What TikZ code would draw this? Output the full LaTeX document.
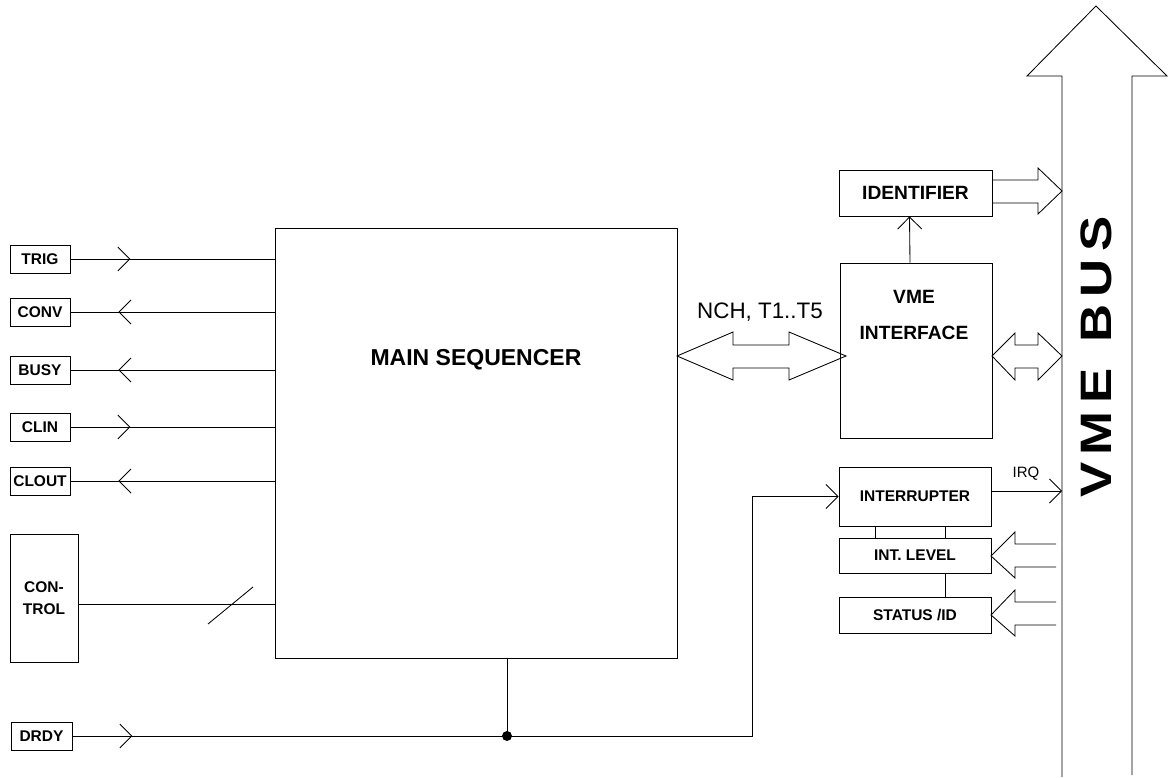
\documentclass[tikz,border=0pt]{standalone}
\usepackage{fontspec}
\setmainfont{Liberation Sans}
\usepackage{tikz}
\usetikzlibrary{arrows.meta,positioning,calc,decorations.markings}
\newcommand{\lblfont}{\fontsize{15.5}{22}\selectfont\bfseries}
\newcommand{\midfont}{\fontsize{19.2}{36}\selectfont\bfseries}

\begin{document}
\begin{tikzpicture}[x=1pt,y=-1pt,line width=0.85pt,
  box/.style={draw,inner sep=0pt,font=\lblfont},
  chev/.tip={Straight Barb[length=12pt,width=24pt]},
  sigin/.style={postaction={decorate},decoration={markings,mark=at position 60pt with {\arrow{chev}}}},
  sigout/.style={postaction={decorate},decoration={markings,mark=at position 48pt with {\arrowreversed{chev}}}}]
  \useasboundingbox (0,0) rectangle (1170,778);
  % main block
  \node[box,minimum width=402,minimum height=430] (seq) at (476,443) {};
  \node[font=\fontsize{23}{26}\selectfont\bfseries] (seqlbl) at (476,360) {MAIN SEQUENCER};
  % front panel signals
  \node[box,minimum width=60,minimum height=28] (trig) at (40,259) {TRIG};
  \node[box,minimum width=60,minimum height=28] (conv) at (40,312) {CONV};
  \node[box,minimum width=60,minimum height=28] (busy) at (40,370) {BUSY};
  \node[box,minimum width=60,minimum height=28] (clin) at (40,427) {CLIN};
  \node[box,minimum width=60,minimum height=28] (clout) at (40,481) {CLOUT};
  \node[box,minimum width=68,minimum height=128,align=center] (ctrl) at (44,598) {CON-\\TROL};
  \node[box,minimum width=61,minimum height=28] (drdy) at (41.5,736) {DRDY};
  \draw[sigin] (trig.east) -- (trig.east -| seq.west);
  \draw[sigout] (conv.east) -- (conv.east -| seq.west);
  \draw[sigout] (busy.east) -- (busy.east -| seq.west);
  \draw[sigin] (clin.east) -- (clin.east -| seq.west);
  \draw[sigout] (clout.east) -- (clout.east -| seq.west);
  \draw ([yshift=-6pt]ctrl.east) -- ([yshift=-6pt]ctrl.east -| seq.west);
  \draw (208,624) -- (253,587);
  % vme side
  \node[box,minimum width=153,minimum height=46,font=\midfont] (ident) at (915.5,193) {IDENTIFIER};
  \node[box,minimum width=152,minimum height=175] (vmeif) at (916,350.5) {};
  \node[font=\midfont,align=center] (vmelbl) at (914,315) {VME\\INTERFACE};
  \node[box,minimum width=152,minimum height=59] (intr) at (915,496.5) {INTERRUPTER};
  \node[box,minimum width=152,minimum height=35] (intlev) at (915,555.5) {INT. LEVEL};
  \node[box,minimum width=152,minimum height=36] (stat) at (915,615) {STATUS /ID};
  \node[font=\fontsize{22.4}{26}\selectfont] (nchlbl) at (760,312) {NCH, T1..T5};
  \node[font=\fontsize{15}{18}\selectfont] (irqlbl) at (1026,474) {IRQ};
  \coordinate (busL) at (1062,777);
  \coordinate (busR) at (1132,775);
  \draw[-{chev}] ([xshift=-6pt]vmeif.north) -- ([xshift=-6pt]ident.south);
  \draw[-{chev}] ([yshift=5.5pt]intr.east) -- ([yshift=5.5pt]intr.east -| busL);
  \draw ([xshift=-40pt]intr.south) -- ([xshift=-40pt]intlev.north);
  \draw ([xshift=30pt]intr.south) -- ([xshift=30pt]intlev.north);
  \draw ([xshift=30pt]intlev.south) -- ([xshift=30pt]stat.north);
  % data ready
  \coordinate (drdyjoin) at (507,736);
  \coordinate (drdyturn) at (752,736);
  \draw[sigin,-{chev}] (drdy.east) -- (drdyturn) |- (intr.west);
  \draw (seq.south -| drdyjoin) -- (drdyjoin);
  \fill (drdyjoin) circle (5pt);
  % wide arrows
  \draw[line join=miter] (677,356) -- (733,332) -- (733,345) -- (789,345) -- (789,332) -- (846,356)
    -- (789,380) -- (789,368) -- (733,368) -- (733,380) -- cycle;
  \draw[line join=miter] (992,356) -- (1015,333) -- (1015,345) -- (1038,345) -- (1038,333) -- (1062,356)
    -- (1038,380) -- (1038,368) -- (1015,368) -- (1015,380) -- cycle;
  \draw[line join=miter] (992,180) -- (1038,180) -- (1038,168) -- (1062,191) -- (1038,214) -- (1038,203) -- (992,203);
  \draw[line join=miter] (1056,544) -- (1015,544) -- (1015,532) -- (991,556) -- (1015,578) -- (1015,567) -- (1056,567);
  \draw[line join=miter] (1056,602) -- (1015,602) -- (1015,590) -- (991,615) -- (1015,636) -- (1015,625) -- (1056,625);
  % bus
  \draw[line join=miter] (busL) -- (1062,76) -- (1027,76) -- (1096,6) -- (1167,76) -- (1132,76) -- (busR);
  \node[rotate=90,font=\fontsize{44}{44}\selectfont\bfseries] (buslbl) at (1096,357)
    {\scalebox{1.2}[1]{V\hspace{6pt}M\hspace{6pt}E\hspace{22pt}B\hspace{6pt}U\hspace{6pt}S}};
\end{tikzpicture}
\end{document}
